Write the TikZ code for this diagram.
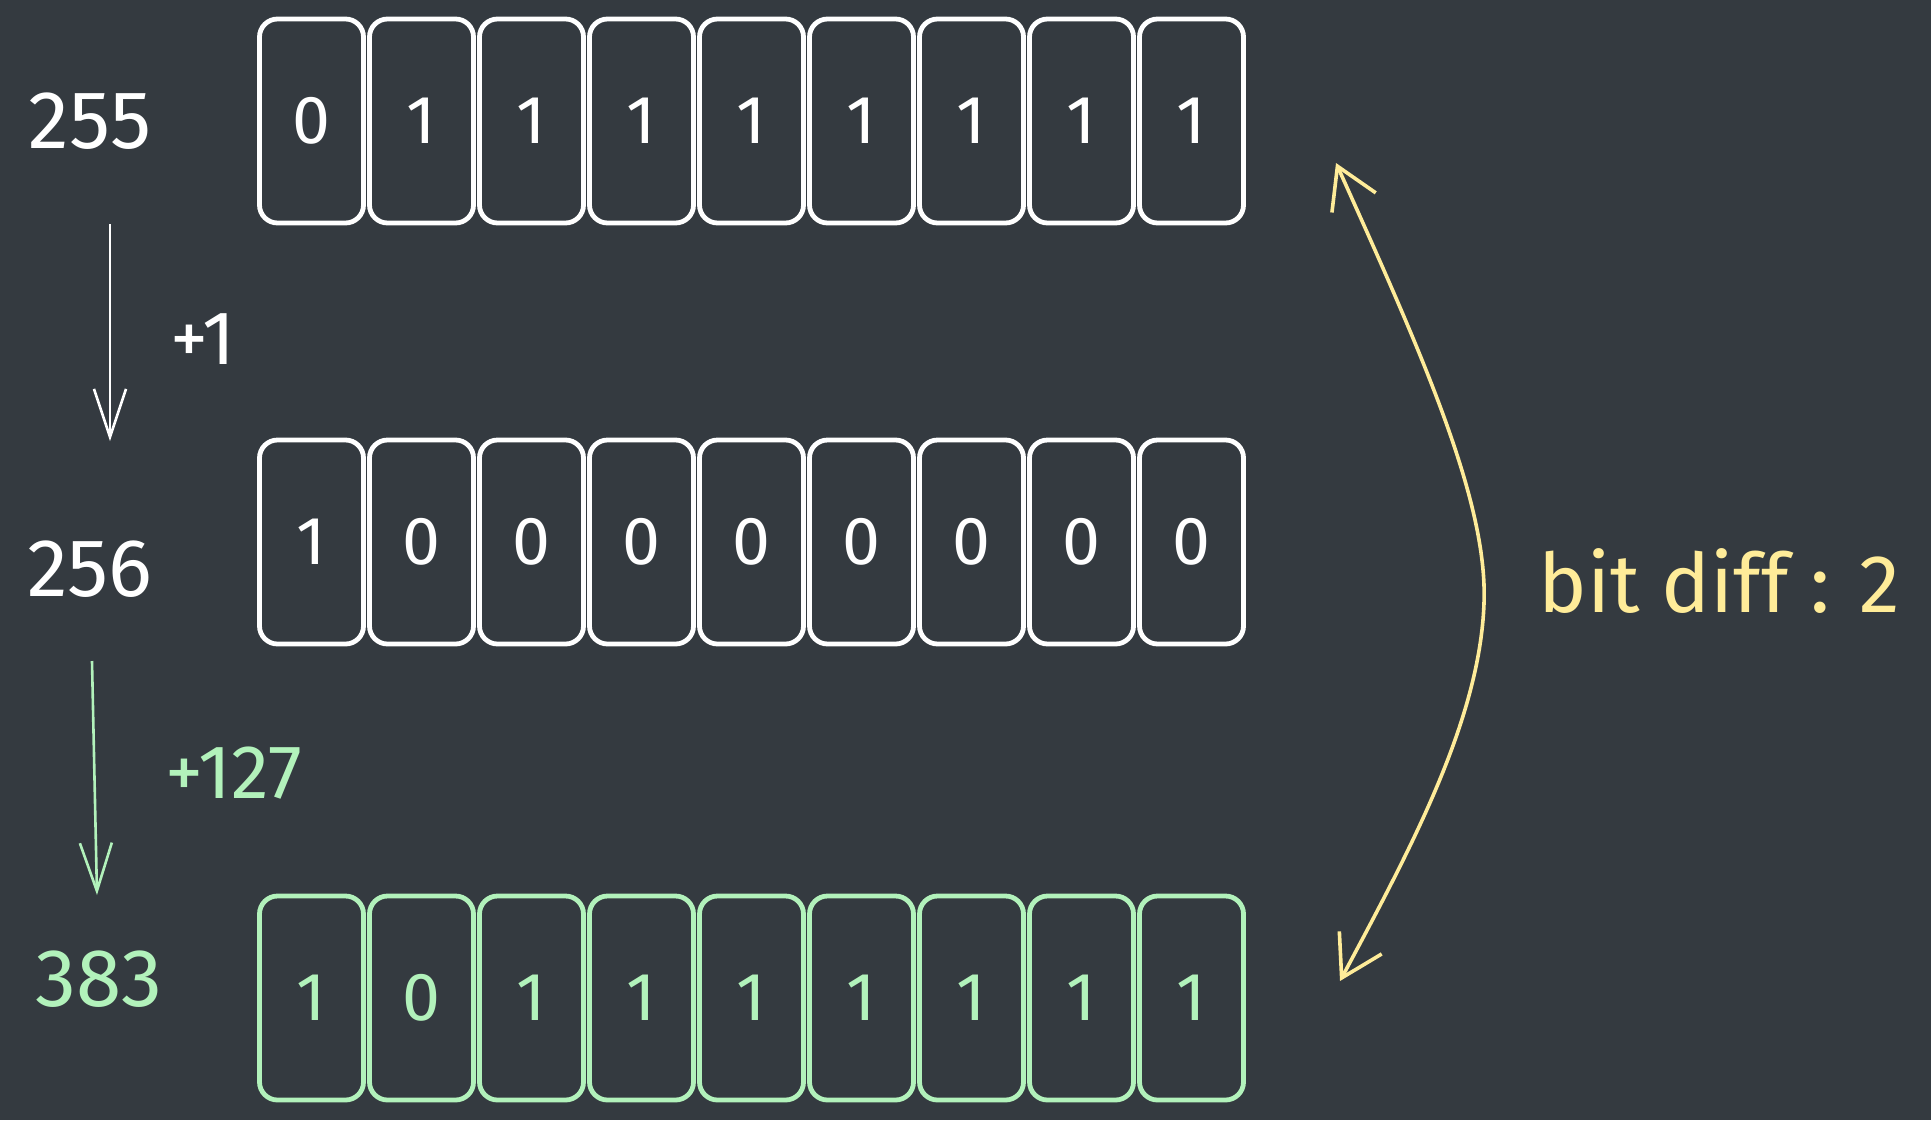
\documentclass[tikz,border=0pt]{standalone}
\usepackage{fontspec}
\setmainfont{Fira Sans}
\usetikzlibrary{arrows.meta}

\definecolor{bgdark}{HTML}{343A40}
\definecolor{bitgreen}{HTML}{B2F2BB}
\definecolor{diffyellow}{HTML}{FFEC99}

\begin{document}
\begin{tikzpicture}[x=0.5pt, y=-0.5pt,
    bitbox/.style = {draw=white, text=white, line width=2.4pt, rounded corners=9pt,
      minimum width=52pt, minimum height=102pt, inner sep=0pt,
      font=\fontsize{34}{40}\selectfont},
    numlabel/.style = {text=white, inner sep=0pt, font=\fontsize{41}{48}\selectfont},
    steplabel/.style = {text=white, inner sep=0pt, font=\fontsize{38}{46}\selectfont},
    stepline/.style = {draw=white, line width=1.3pt, -{Straight Barb[length=24pt, width=16pt, line width=1.3pt]}}]

    % Background
    \fill[bgdark] (0,0) rectangle (1931,1120);
    \useasboundingbox (0,0) rectangle (1931,1120);

    % Rows of bits
    \foreach \b [count=\i from 0] in {0,1,1,1,1,1,1,1,1}
      \node[bitbox] (a\i) at ({311.5+110*\i},121) {\b};
    \foreach \b [count=\i from 0] in {1,0,0,0,0,0,0,0,0}
      \node[bitbox] (b\i) at ({311.5+110*\i},542) {\b};
    \foreach \b [count=\i from 0] in {1,0,1,1,1,1,1,1,1}
      \node[bitbox, draw=bitgreen, text=bitgreen] (c\i) at ({311.5+110*\i},998) {\b};

    % Numbers
    \node[numlabel] (n255) at (90,121) {255};
    \node[numlabel] (n256) at (90,569) {256};
    \node[numlabel, text=bitgreen] (n383) at (99,979) {383};

    % Steps
    \coordinate (s1a) at (110,224);
    \coordinate (s1b) at (110,441);
    \draw[stepline] (s1a) -- (s1b);
    \node[steplabel] (p1) at (203,339) {+1};

    \coordinate (s2a) at (92,661);
    \coordinate (s2b) at (97,895);
    \draw[stepline, draw=bitgreen] (s2a) -- (s2b);
    \node[steplabel, text=bitgreen] (p127) at (234,773) {+127};

    % Bit difference
    \coordinate (dtop) at (1336,163);
    \coordinate (dmid) at (1484,603);
    \coordinate (dbot) at (1340,981);
    \draw[draw=diffyellow, line width=1.8pt,
      {Straight Barb[length=20pt, width=24pt, line width=1.8pt]}-{Straight Barb[length=20pt, width=24pt, line width=1.8pt]}]
      (dtop) .. controls (1420,350) and (1488,500) .. (dmid)
             .. controls (1480,720) and (1410,850) .. (dbot);
    \node[text=diffyellow, inner sep=0pt, font=\fontsize{41}{48}\selectfont] (diff) at (1719,581) {bit diff : 2};

\end{tikzpicture}
\end{document}
